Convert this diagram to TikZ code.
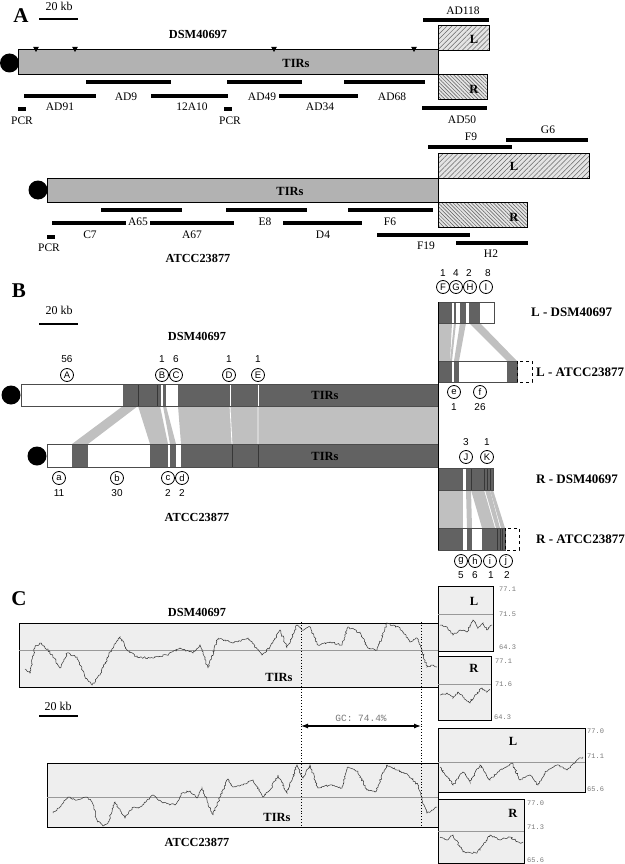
\documentclass[tikz,border=0pt]{standalone}
\usepackage{fontspec}
\setmainfont{Liberation Serif}
\newfontfamily\sansf{Liberation Sans}
\newfontfamily\monof{Liberation Mono}
\usetikzlibrary{patterns.meta,decorations.pathmorphing,arrows.meta}
\definecolor{midgray}{RGB}{178,178,178}
\definecolor{dkg}{RGB}{98,98,98}
\definecolor{dkline}{RGB}{55,55,55}
\definecolor{bandc}{RGB}{192,192,192}
\definecolor{plotbg}{RGB}{238,238,238}
\definecolor{hatchbg}{RGB}{228,228,228}
\definecolor{valc}{RGB}{120,120,120}
\begin{document}
\begin{tikzpicture}[x=1pt,y=-1pt,
  txt/.style={font=\fontsize{11.5}{13}\selectfont, inner sep=0},
  sbt/.style={font=\fontsize{12}{14}\selectfont, inner sep=0},
  ttl/.style={font=\bfseries\fontsize{12.3}{14}\selectfont, inner sep=0},
  rttl/.style={font=\bfseries\fontsize{13}{15}\selectfont, inner sep=0, anchor=west},
  panel/.style={font=\bfseries\fontsize{21}{23}\selectfont, inner sep=0},
  tirs/.style={font=\bfseries\fontsize{12.5}{14}\selectfont, inner sep=0},
  boxl/.style={font=\bfseries\fontsize{12.5}{14}\selectfont, inner sep=0},
  clone/.style={line width=3.6pt},
  pcr/.style={line width=3.4pt},
  scalebar/.style={line width=2pt},
  cl/.style={circle, draw, line width=0.8pt, inner sep=0, minimum size=13pt, font=\sansf\fontsize{9.5}{10}\selectfont},
  num/.style={font=\sansf\fontsize{10}{11}\selectfont, inner sep=0},
  gcv/.style={font=\monof\fontsize{7}{8}\selectfont, text=valc, inner sep=0, anchor=west},
  chrom/.style={draw, line width=1pt, fill=midgray},
  segbox/.style={draw=black!70, line width=0.6pt},
  bandf/.style={fill=bandc},
  plotbox/.style={draw, line width=1pt, fill=plotbg},
  midl/.style={draw=black!40, line width=0.6pt},
  gccurve/.style={draw=black!80, line width=0.5pt, decorate, decoration={random steps, segment length=1.4pt, amplitude=0.9pt}},
  tri/.style={fill=black}
]
\useasboundingbox (0,0) rectangle (624,864);
\pgfmathsetseed{7}

% ================= Panel A =================
\node[panel] (pA) at (21,16) {A};
\draw[scalebar] (39,19) -- (78,19);
\node[sbt] (sbA) at (59,6) {20 kb};
\node[ttl] (dsmA) at (198,34) {DSM40697};
% DSM40697 chromosome
\fill (9.5,63) circle (9.5);
\draw[chrom] (18,50) rectangle (438,75);
\node[tirs] (tA1) at (296,63) {TIRs};
\foreach \x in {36,75,274,414} \fill[tri] (\x-2.8,47) -- (\x+2.8,47) -- (\x,52) -- cycle;
\fill[hatchbg] (438,26) rectangle (489,51);
\fill[pattern={Lines[angle=45,distance=3.5pt,line width=0.5pt]}, pattern color=black!60] (438,26) rectangle (489,51);
\draw[line width=1pt] (438,26) rectangle (489,51);
\node[boxl] (LA1) at (474,39) {L};
\fill[hatchbg] (438,75) rectangle (487,100);
\fill[pattern={Lines[angle=-45,distance=2.6pt,line width=0.5pt]}, pattern color=black!65] (438,75) rectangle (487,100);
\draw[line width=1pt] (438,75) rectangle (487,100);
\node[boxl] (RA1) at (474,89) {R};
% clones DSM
\draw[clone] (423,20) -- (489,20); \node[txt] (c1) at (463,11) {AD118};
\draw[clone] (422,108) -- (487,108); \node[txt] (c2) at (462,120) {AD50};
\draw[clone] (86,82) -- (171,82); \node[txt] (c3) at (126,97) {AD9};
\draw[clone] (227,82) -- (302,82); \node[txt] (c4) at (262,97) {AD49};
\draw[clone] (344,82) -- (425,82); \node[txt] (c5) at (392,97) {AD68};
\draw[clone] (24,96) -- (96,96); \node[txt] (c6) at (60,107) {AD91};
\draw[clone] (151,96) -- (228,96); \node[txt] (c7) at (192,107) {12A10};
\draw[clone] (279,96) -- (358,96); \node[txt] (c8) at (320,107) {AD34};
\draw[pcr] (18,109) -- (26,109); \node[txt] (p1) at (22,121) {PCR};
\draw[pcr] (224,109) -- (232,109); \node[txt] (p2) at (230,121) {PCR};
% ATCC23877 chromosome
\fill (38,190) circle (9.5);
\draw[chrom] (47,178) rectangle (438,202);
\node[tirs] (tA2) at (290,191) {TIRs};
\fill[hatchbg] (438,153) rectangle (589,178);
\fill[pattern={Lines[angle=45,distance=3.5pt,line width=0.5pt]}, pattern color=black!60] (438,153) rectangle (589,178);
\draw[line width=1pt] (438,153) rectangle (589,178);
\node[boxl] (LA2) at (514,166) {L};
\fill[hatchbg] (438,202) rectangle (527,227);
\fill[pattern={Lines[angle=-45,distance=2.6pt,line width=0.5pt]}, pattern color=black!65] (438,202) rectangle (527,227);
\draw[line width=1pt] (438,202) rectangle (527,227);
\node[boxl] (RA2) at (514,217) {R};
% clones ATCC
\draw[clone] (428,147) -- (512,147); \node[txt] (d1) at (471,137) {F9};
\draw[clone] (506,140) -- (588,140); \node[txt] (d2) at (548,130) {G6};
\draw[clone] (101,210) -- (182,210);
\draw[clone] (226,210) -- (307,210);
\draw[clone] (348,210) -- (433,210);
\draw[clone] (52,223) -- (126,223);
\draw[clone] (150,223) -- (234,223);
\draw[clone] (283,223) -- (362,223);
\draw[clone] (377,235) -- (470,235);
\draw[clone] (456,243) -- (528,243);
\node[txt] (d3) at (138,222) {A65};
\node[txt] (d4) at (90,235) {C7};
\node[txt] (d5) at (192,235) {A67};
\node[txt] (d6) at (265,222) {E8};
\node[txt] (d7) at (323,235) {D4};
\node[txt] (d8) at (390,222) {F6};
\node[txt] (d9) at (426,246) {F19};
\node[txt] (d10) at (491,254) {H2};
\draw[pcr] (47,237) -- (55,237); \node[txt] (p3) at (49,248) {PCR};
\node[ttl] (atccA) at (198,258) {ATCC23877};

% ================= Panel B =================
\node[panel] (pB) at (19,291) {B};
\node[sbt] (sbB) at (59,310) {20 kb};
\draw[scalebar] (39,324) -- (78,324);
\node[ttl] (dsmB) at (197,336) {DSM40697};
% bands between chromosomes
\fill[bandf] (123,406) -- (138,406) -- (88,444) -- (72,444) -- cycle;
\fill[bandf] (138,406) -- (160,406) -- (168,444) -- (150,444) -- cycle;
\fill[bandf] (163,406) -- (166,406) -- (176,444) -- (170,444) -- cycle;
\fill[bandf] (178,406) -- (438,406) -- (438,444) -- (181,444) -- cycle;
\draw[white, line width=0.8pt] (230,406) -- (232,444) (258,406) -- (258,444);
% top chromosome (DSM)
\fill (11,395) circle (9.5);
\fill[white] (21,384) rectangle (438,406);
\fill[dkg] (123,384) rectangle (438,406);
\fill[white] (161,384) rectangle (163,406);
\fill[white] (166,384) rectangle (178,406);
\draw[dkline, line width=0.7pt] (138,384) -- (138,406) (157,384) -- (157,406);
\draw[white, line width=0.8pt] (230,384) -- (230,406) (258,384) -- (258,406);
\draw[segbox] (21,384) rectangle (438,406);
\node[tirs] (tB1) at (325,395) {TIRs};
% bottom chromosome (ATCC)
\fill (37,456) circle (9.5);
\fill[white] (47,444) rectangle (438,467);
\fill[dkg] (72,444) rectangle (88,467);
\fill[dkg] (150,444) rectangle (168,467);
\fill[dkg] (170,444) rectangle (176,467);
\fill[dkg] (181,444) rectangle (438,467);
\draw[dkline, line width=0.7pt] (232,444) -- (232,467) (258,444) -- (258,467);
\draw[segbox] (47,444) rectangle (438,467);
\node[tirs] (tB2) at (325,456) {TIRs};
% labels top
\node[num] (nA) at (67,359) {56}; \node[cl] (cA) at (67,375) {A};
\node[num] (nB) at (162,359) {1}; \node[cl] (cB) at (162,375) {B};
\node[num] (nC) at (176,359) {6}; \node[cl] (cC) at (176,375) {C};
\node[num] (nD) at (229,359) {1}; \node[cl] (cD) at (229,375) {D};
\node[num] (nE) at (258,359) {1}; \node[cl] (cE) at (258,375) {E};
% labels bottom
\node[cl] (ca) at (59,478) {a}; \node[num] (na) at (59,493) {11};
\node[cl] (cb) at (117,478) {b}; \node[num] (nb) at (117,493) {30};
\node[cl] (cc) at (168,478) {c}; \node[num] (nc) at (168,493) {2};
\node[cl] (cd) at (182,478) {d}; \node[num] (nd) at (182,493) {2};
\node[ttl] (atccB) at (197,517) {ATCC23877};
% ---- L ends ----
\fill[bandf] (438,323) -- (452,323) -- (450,361) -- (438,361) -- cycle;
\fill[bandf] (454,323) -- (456,323) -- (452,361) -- (450,361) -- cycle;
\fill[bandf] (460,323) -- (466,323) -- (459,361) -- (454,361) -- cycle;
\fill[bandf] (469,323) -- (480,323) -- (517,361) -- (507,361) -- cycle;
\fill[white] (438,302) rectangle (494,323);
\fill[dkg] (438,302) rectangle (452,323);
\fill[dkg] (454,302) rectangle (456,323);
\fill[dkg] (460,302) rectangle (466,323);
\fill[dkg] (469,302) rectangle (480,323);
\draw[segbox] (438,302) rectangle (494,323);
\node[num] (n1) at (443,273) {1}; \node[cl] (cF) at (443,287) {F};
\node[num] (n4) at (456,273) {4}; \node[cl] (cG) at (456,287) {G};
\node[num] (n2) at (469,273) {2}; \node[cl] (cH) at (470,287) {H};
\node[num] (n8) at (488,273) {8}; \node[cl] (cI) at (486,287) {I};
\node[rttl] (lLD) at (531,312) {L - DSM40697};
\fill[white] (438,361) rectangle (517,382);
\fill[dkg] (438,361) rectangle (452,382);
\fill[dkg] (454,361) rectangle (459,382);
\fill[dkg] (507,361) rectangle (517,382);
\draw[segbox] (438,361) rectangle (517,382);
\draw[dashed, line width=0.6pt] (517,361) rectangle (532,382);
\node[rttl] (lLA) at (536,372) {L - ATCC23877};
\node[cl] (ce) at (454,392) {e}; \node[num] (ne) at (454,407) {1};
\node[cl] (cf) at (480,392) {f}; \node[num] (nf) at (480,407) {26};
% ---- R ends ----
\fill[bandf] (438,490) -- (463,490) -- (463,528) -- (438,528) -- cycle;
\fill[bandf] (466,490) -- (471,490) -- (472,528) -- (467,528) -- cycle;
\fill[bandf] (471,490) -- (484,490) -- (495,528) -- (482,528) -- cycle;
\fill[bandf] (485,490) -- (490,490) -- (500,528) -- (496,528) -- cycle;
\fill[bandf] (490,490) -- (493,490) -- (505,528) -- (501,528) -- cycle;
\fill[dkg] (438,468) rectangle (493,490);
\fill[white] (463,468) rectangle (466,490);
\draw[dkline, line width=0.7pt] (471,468) -- (471,490) (484,468) -- (484,490) (487,468) -- (487,490) (490,468) -- (490,490);
\draw[segbox] (438,468) rectangle (493,490);
\node[num] (n3) at (466,442) {3}; \node[cl] (cJ) at (466,457) {J};
\node[num] (n1b) at (487,442) {1}; \node[cl] (cK) at (487,457) {K};
\node[rttl] (lRD) at (536,479) {R - DSM40697};
\fill[dkg] (438,528) rectangle (505,550);
\fill[white] (463,528) rectangle (467,550);
\fill[white] (472,528) rectangle (482,550);
\draw[dkline, line width=0.7pt] (497,528) -- (497,550) (500,528) -- (500,550) (502,528) -- (502,550);
\draw[segbox] (438,528) rectangle (505,550);
\draw[dashed, line width=0.6pt] (505,528) rectangle (519,550);
\node[rttl] (lRA) at (536,539) {R - ATCC23877};
\node[cl] (cg) at (461,561) {g}; \node[num] (ng) at (461,575) {5};
\node[cl] (ch) at (475,561) {h}; \node[num] (nh) at (475,575) {6};
\node[cl] (ci) at (490,561) {i}; \node[num] (ni) at (491,575) {1};
\node[cl] (cj) at (506,561) {j}; \node[num] (nj) at (507,575) {2};
% separating vertical line
\draw[line width=0.9pt] (438,302) -- (438,550);

% ================= Panel C =================
\node[panel] (pC) at (19,599) {C};
\node[ttl] (dsmC) at (197,612) {DSM40697};
\draw[plotbox] (19,623) rectangle (438,687);
\draw[midl] (19,650) -- (438,650);
\draw[gccurve] plot coordinates {(25,669) (30,673) (35,647) (40,643) (50,652) (60,668) (67,653) (77,657) (85,677) (92,685) (100,675) (110,652) (120,637) (127,650) (137,657) (150,658) (167,655) (180,648) (193,653) (200,645) (208,668) (218,638) (233,643) (248,638) (262,655) (270,647) (280,630) (287,648) (297,625) (302,630) (310,627) (318,645) (330,642) (342,645) (348,627) (360,633) (368,648) (377,650) (387,623) (400,628) (410,642) (417,638) (422,650) (427,667) (433,665) (437,667)};
\node[tirs] (tC1) at (279,677) {TIRs};
% L top
\draw[plotbox] (438,586) rectangle (493,651);
\draw[midl] (438,614) -- (493,614);
\draw[gccurve] plot coordinates {(440,625) (447,627) (453,635) (460,630) (467,632) (473,620) (478,628) (483,623) (487,630) (492,625)};
\node[boxl] (LC1) at (474,601) {L};
\node[gcv] (v1) at (499,589) {77.1};
\node[gcv] (v2) at (499,614) {71.5};
\node[gcv] (v3) at (499,647) {64.3};
% R top
\draw[plotbox] (438,656) rectangle (491,720);
\draw[midl] (438,684) -- (491,684);
\draw[gccurve] plot coordinates {(440,695) (447,693) (453,698) (458,692) (463,697) (470,703) (475,695) (482,688) (487,692) (490,690)};
\node[boxl] (RC1) at (474,668) {R};
\node[gcv] (v4) at (495,661) {77.1};
\node[gcv] (v5) at (495,684) {71.6};
\node[gcv] (v6) at (494,717) {64.3};
% scale bar
\node[sbt] (sbC) at (58,706) {20 kb};
\draw[scalebar] (39,716) -- (78,716);
% bottom plot
\draw[plotbox] (47,763) rectangle (438,827);
\draw[midl] (47,797) -- (438,797);
\draw[gccurve] plot coordinates {(53,813) (60,807) (68,797) (77,800) (87,797) (92,802) (97,820) (103,826) (108,823) (115,802) (125,818) (132,808) (140,807) (153,795) (163,803) (175,805) (182,793) (190,791) (197,798) (202,788) (207,800) (213,815) (220,797) (228,779) (233,787) (243,785) (253,780) (263,797) (270,790) (278,775) (287,793) (297,765) (303,778) (310,765) (318,788) (330,785) (342,788) (348,767) (358,772) (367,790) (375,792) (387,765) (397,770) (408,775) (418,785) (422,800) (427,813) (433,810) (437,807)};
\node[tirs] (tC2) at (277,817) {TIRs};
\node[ttl] (atccC) at (197,842) {ATCC23877};
% L bottom
\draw[plotbox] (438,728) rectangle (585,792);
\draw[midl] (438,762) -- (585,762);
\draw[gccurve] plot coordinates {(440,767) (453,785) (463,772) (470,782) (480,765) (490,780) (500,770) (512,763) (520,780) (530,775) (538,785) (545,772) (557,765) (567,770) (577,760) (583,757)};
\node[boxl] (LC2) at (513,741) {L};
\node[gcv] (v7) at (587,731) {77.0};
\node[gcv] (v8) at (587,756) {71.1};
\node[gcv] (v9) at (587,789) {65.6};
% R bottom
\draw[plotbox] (438,799) rectangle (524,863);
\draw[midl] (438,831) -- (524,831);
\draw[gccurve] plot coordinates {(440,837) (447,840) (453,835) (463,852) (477,853) (490,835) (500,840) (510,837) (520,843) (523,842)};
\node[boxl] (RC2) at (513,813) {R};
\node[gcv] (v10) at (527,803) {77.0};
\node[gcv] (v11) at (527,827) {71.3};
\node[gcv] (v12) at (527,860) {65.6};
% TIR borders and GC arrow
\coordinate (g1t) at (301,622); \coordinate (g1b) at (301,827);
\coordinate (g2t) at (421,622); \coordinate (g2b) at (421,827);
\draw[dotted, line width=0.9pt] (g1t) -- (g1b);
\draw[dotted, line width=0.9pt] (g2t) -- (g2b);
\coordinate (ga) at (301,726); \coordinate (gb) at (421,726);
\draw[{Latex[length=7pt,width=5pt]}-{Latex[length=7pt,width=5pt]}, line width=1.2pt] (ga) -- (gb);
\node[font=\monof\fontsize{9.5}{10}\selectfont, text=valc, inner sep=0] (gc) at (361,718) {GC: 74.4\%};
\end{tikzpicture}
\end{document}
